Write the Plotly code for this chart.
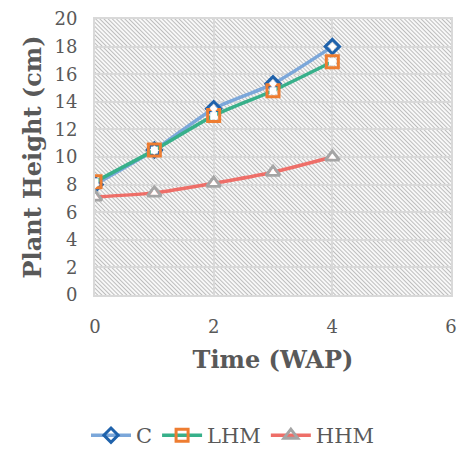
import base64
import plotly.graph_objects as go

weeks = [0, 1, 2, 3, 4]
c_vals = [8.0, 10.5, 13.5, 15.3, 18.0]
lhm_vals = [8.2, 10.5, 13.0, 14.8, 16.9]
hhm_vals = [7.1, 7.4, 8.1, 8.9, 10.0]
x_ticks = [0, 2, 4, 6]
y_ticks = list(range(0, 21, 2))

font_family = "DejaVu Serif, Liberation Serif, serif"
grey_text = "#595959"

svg = ("<svg xmlns='http://www.w3.org/2000/svg' width='362' height='282'>"
       "<defs><pattern id='h' width='3' height='3' patternUnits='userSpaceOnUse' "
       "patternTransform='rotate(-45)'><rect width='3' height='3' fill='#f8f8f8'/>"
       "<line x1='0.5' y1='0' x2='0.5' y2='3' stroke='#bdbdbd' stroke-width='1'/></pattern></defs>"
       "<rect width='362' height='282' fill='url(#h)'/></svg>")
hatch_src = "data:image/svg+xml;base64," + base64.b64encode(svg.encode()).decode()

fig = go.Figure()
series = [
    ("C", c_vals, "#7BA7DA", "diamond-open", "#1F62AB", 11),
    ("LHM", lhm_vals, "#37B08A", "square-open", "#EE7D31", 12),
    ("HHM", hhm_vals, "#EE6E68", "triangle-up-open", "#A5A5A5", 12),
]
for name, vals, lc, sym, mc, ms in series:
    fig.add_trace(go.Scatter(
        x=weeks, y=vals, name=name, mode="lines+markers",
        line=dict(color=lc, width=3.5, shape="spline", smoothing=0.6),
        marker=dict(symbol=sym, size=ms, color=mc, line=dict(color=mc, width=3)),
    ))
# white fill inside open markers
for name, vals, lc, sym, mc, ms in series:
    fig.add_trace(go.Scatter(
        x=weeks, y=vals, mode="markers", showlegend=False, hoverinfo="skip",
        marker=dict(symbol=sym.replace("-open", ""), size=ms - 5, color="white"),
    ))

fig.update_layout(
    width=465, height=449,
    margin=dict(l=95, r=8, t=13, b=154),
    paper_bgcolor="white", plot_bgcolor="white",
    font=dict(family=font_family, color=grey_text, size=17),
    images=[dict(source=hatch_src, xref="paper", yref="paper", x=0, y=1,
                 sizex=1, sizey=1, sizing="stretch", layer="below",
                 xanchor="left", yanchor="top")],
    legend=dict(orientation="h", xref="container", yref="container",
                x=0.5, y=0.03, xanchor="center", yanchor="middle",
                font=dict(size=21, color=grey_text), itemwidth=40),
    showlegend=True,
)
fig.update_xaxes(
    range=[0, 6], tickvals=x_ticks, showgrid=True, gridcolor="#d9d9d9", gridwidth=2,
    showline=True, linecolor="#d9d9d9", linewidth=2, mirror=True, zeroline=False,
    ticks="outside", ticklen=14, tickcolor="rgba(0,0,0,0)",
    tickfont=dict(size=18),
    title=dict(text="<b>Time (WAP)</b>", font=dict(size=24), standoff=16),
)
fig.update_yaxes(
    range=[0, 20], tickvals=y_ticks, showgrid=True, gridcolor="#d9d9d9", gridwidth=2,
    showline=True, linecolor="#d9d9d9", linewidth=2, mirror=True, zeroline=False,
    ticks="outside", ticklen=12, tickcolor="rgba(0,0,0,0)",
    tickfont=dict(size=18),
    title=dict(text="<b>Plant Height (cm)</b>", font=dict(size=24), standoff=6),
)
fig.write_html("out.html")
